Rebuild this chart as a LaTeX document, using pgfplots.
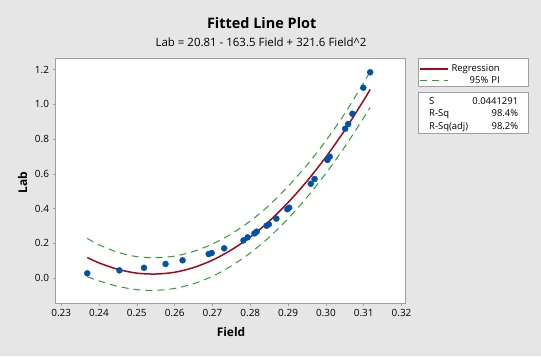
\documentclass[border=0pt]{standalone}
\usepackage{fontspec}
\setmainfont{Open Sans}
\usepackage{pgfplots}
\pgfplotsset{compat=1.18}
\definecolor{bg}{HTML}{E6E6E6}
\definecolor{framec}{HTML}{A0A0A0}
\definecolor{ptblue}{HTML}{0054A6}
\definecolor{fitred}{HTML}{A00A1E}
\definecolor{pigreen}{HTML}{2E9E3A}
\pgfplotstableread{
x y
0.2369 0.027
0.2454 0.044
0.2519 0.059
0.2576 0.081
0.2621 0.102
0.2690 0.138
0.2698 0.144
0.2731 0.171
0.2782 0.217
0.2793 0.234
0.2811 0.257
0.2817 0.267
0.2843 0.301
0.2849 0.309
0.2869 0.342
0.2898 0.396
0.2903 0.405
0.2960 0.543
0.2970 0.570
0.3004 0.680
0.3010 0.699
0.3051 0.860
0.3059 0.887
0.3070 0.946
0.3099 1.096
0.3117 1.185
}\pts
\pgfplotstableread{
x fit up lo
0.2369 0.118 0.228 0.008
0.240 0.087 0.191 -0.017
0.245 0.050 0.148 -0.048
0.250 0.028 0.123 -0.067
0.255 0.023 0.117 -0.071
0.260 0.033 0.126 -0.060
0.265 0.060 0.153 -0.033
0.270 0.103 0.196 0.010
0.275 0.162 0.254 0.070
0.280 0.236 0.328 0.144
0.285 0.327 0.419 0.235
0.290 0.435 0.528 0.342
0.295 0.558 0.651 0.465
0.300 0.697 0.791 0.603
0.305 0.852 0.948 0.756
0.310 1.024 1.125 0.923
0.3117 1.086 1.190 0.982
}\fitt
\begin{document}
\begin{tikzpicture}[x=1bp,y=1bp]
\fill[bg] (0,0) rectangle (541,356);
\useasboundingbox (0,0) rectangle (541,356);
% legend and stats boxes
\filldraw[fill=white,draw=framec,line width=0.8bp] (418,298) rectangle (528,270);
\filldraw[fill=white,draw=framec,line width=0.8bp] (418,264) rectangle (528,223);
\begin{axis}[
  at={(55.5bp,53bp)}, anchor=south west,
  scale only axis, width=350.2bp, height=244.7bp,
  xmin=0.2285, xmax=0.3211, ymin=-0.144, ymax=1.2656,
  axis background/.style={fill=white},
  axis line style={draw=framec, line width=0.8bp},
  xtick={0.23,0.24,...,0.325}, ytick={0,0.2,...,1.25},
  tick align=outside, major tick length=3bp,
  tick style={draw=framec, line width=0.6bp},
  xtick pos=bottom, ytick pos=left,
  /pgf/number format/assume math mode=true,
  tick label style={font=\fontsize{10}{12}\selectfont, text=black},
  xticklabel style={/pgf/number format/.cd, fixed, fixed zerofill, precision=2},
  yticklabel style={/pgf/number format/.cd, fixed, fixed zerofill, precision=1},
  legend style={at={(1.0382,0.975)}, anchor=north west, draw=none, fill=none,
    font=\fontsize{9.5}{11}\selectfont, inner sep=0pt, row sep=3.5bp, column sep=0pt,
    nodes={text width=51bp, align=right, inner sep=0pt}},
  legend image code/.code={\draw[#1] (0bp,0bp) -- (28bp,0bp);},
  legend cell align=right,
  clip=false,
]
\addplot[fitred, line width=1.5bp, smooth] table[x=x,y=fit] {\fitt};
\addlegendentry{Regression}
\addplot[pigreen, line width=1bp, dash pattern=on 7bp off 5bp, smooth] table[x=x,y=up] {\fitt};
\addlegendentry{95\% PI}
\addplot[pigreen, line width=1bp, dash pattern=on 7bp off 5bp, smooth, forget plot] table[x=x,y=lo] {\fitt};
\addplot[only marks, mark=*, mark size=3bp, mark options={fill=ptblue, draw=ptblue}, forget plot] table[x=x,y=y] {\pts};
\end{axis}
\node[font=\fontsize{14.5}{16}\selectfont\bfseries] at (261.7,333) {Fitted Line Plot};
\node[font=\fontsize{11.5}{13}\selectfont] at (261,314) {Lab = 20.81 - 163.5 Field + 321.6 Field\textasciicircum 2};
\node[font=\fontsize{12}{14}\selectfont\bfseries] at (231,24.3) {Field};
\node[font=\fontsize{12}{14}\selectfont\bfseries, rotate=90] at (22.7,173.3) {Lab};
\begin{scope}[font=\fontsize{9.5}{11}\selectfont]
\node[anchor=base west] at (425.7,252) {S};
\node[anchor=base east] at (521.7,252) {0.0441291};
\node[anchor=base west] at (425.7,239.5) {R-Sq};
\node[anchor=base east] at (521.7,239.5) {98.4\%};
\node[anchor=base west] at (425.7,227) {R-Sq(adj)};
\node[anchor=base east] at (521.7,227) {98.2\%};
\end{scope}
\end{tikzpicture}
\end{document}
